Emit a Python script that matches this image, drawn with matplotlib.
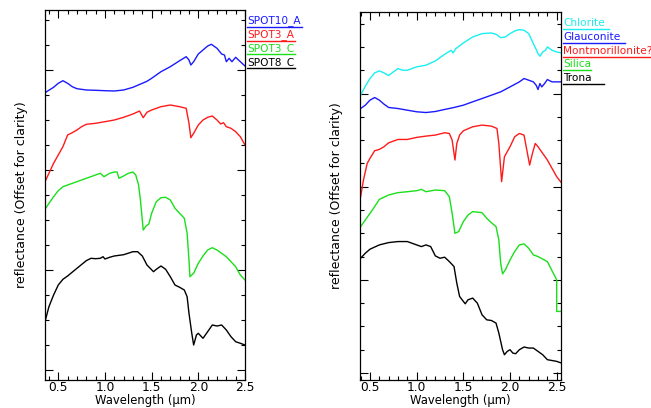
"""Offset reflectance spectra, two panels, IDL-style look."""

import matplotlib
matplotlib.use("Agg")
import matplotlib.pyplot as plt
from matplotlib.ticker import MultipleLocator, NullFormatter
from matplotlib.lines import Line2D

# ── Left panel data ───────────────────────────────────────────────────────────
L_SPOT10_A_X = [0.358, 0.45, 0.5, 0.55, 0.6, 0.65, 0.7, 0.8, 0.9, 1.0, 1.1, 1.2, 1.3, 1.4,
                1.45, 1.5, 1.6, 1.7, 1.8, 1.87, 1.9, 1.92, 1.95, 2.0, 2.05, 2.1, 2.14,
                2.2, 2.25, 2.28, 2.3, 2.33, 2.36, 2.4, 2.45, 2.5]
L_SPOT10_A_Y = [2.773, 2.827, 2.867, 2.893, 2.867, 2.833, 2.813, 2.8, 2.797, 2.793, 2.79,
                2.8, 2.827, 2.867, 2.887, 2.917, 2.983, 3.033, 3.093, 3.133, 3.1, 3.05,
                3.083, 3.16, 3.2, 3.24, 3.257, 3.217, 3.16, 3.15, 3.083, 3.117, 3.083,
                3.127, 3.083, 3.04]

L_SPOT3_A_X = [0.358, 0.4, 0.45, 0.5, 0.55, 0.6, 0.65, 0.7, 0.75, 0.8, 0.9, 1.0, 1.1, 1.2,
               1.3, 1.37, 1.4, 1.41, 1.45, 1.5, 1.6, 1.7, 1.8, 1.87, 1.9, 1.92, 1.95,
               2.0, 2.05, 2.1, 2.15, 2.2, 2.24, 2.27, 2.3, 2.35, 2.4, 2.45, 2.5]
L_SPOT3_A_Y = [1.883, 1.967, 2.067, 2.15, 2.233, 2.35, 2.373, 2.4, 2.433, 2.457, 2.467,
               2.483, 2.5, 2.527, 2.56, 2.59, 2.54, 2.523, 2.577, 2.6, 2.633, 2.65,
               2.633, 2.617, 2.467, 2.323, 2.367, 2.45, 2.5, 2.527, 2.54, 2.5, 2.46,
               2.473, 2.433, 2.417, 2.383, 2.333, 2.25]

L_SPOT3_C_X = [0.358, 0.4, 0.45, 0.5, 0.55, 0.6, 0.7, 0.8, 0.9, 0.95, 0.99, 1.05, 1.1,
               1.13, 1.15, 1.2, 1.25, 1.3, 1.33, 1.36, 1.38, 1.4, 1.41, 1.44, 1.47, 1.5,
               1.55, 1.6, 1.65, 1.7, 1.75, 1.8, 1.85, 1.88, 1.9, 1.91, 1.95, 2.0, 2.05,
               2.1, 2.15, 2.2, 2.3, 2.4, 2.45, 2.5]
L_SPOT3_C_Y = [1.607, 1.667, 1.733, 1.793, 1.833, 1.85, 1.883, 1.917, 1.95, 1.967, 1.933,
               1.967, 1.98, 1.98, 1.917, 1.94, 1.967, 1.98, 1.95, 1.85, 1.7, 1.5, 1.4,
               1.44, 1.46, 1.567, 1.683, 1.723, 1.727, 1.7, 1.617, 1.567, 1.517, 1.367,
               1.1, 0.933, 0.967, 1.067, 1.14, 1.2, 1.223, 1.2, 1.133, 1.033, 0.95, 0.9]

L_SPOT8_C_X = [0.358, 0.4, 0.45, 0.5, 0.55, 0.6, 0.7, 0.8, 0.85, 0.9, 0.95, 0.98, 1.0,
               1.05, 1.1, 1.2, 1.3, 1.35, 1.4, 1.45, 1.52, 1.55, 1.6, 1.65, 1.7, 1.75,
               1.8, 1.85, 1.88, 1.9, 1.93, 1.95, 1.98, 2.0, 2.05, 2.1, 2.15, 2.2, 2.25,
               2.3, 2.35, 2.4, 2.45, 2.5]
L_SPOT8_C_Y = [0.483, 0.633, 0.75, 0.85, 0.907, 0.94, 1.017, 1.093, 1.117, 1.113, 1.117,
               1.133, 1.11, 1.127, 1.14, 1.153, 1.183, 1.183, 1.14, 1.05, 0.983, 1.007,
               1.04, 1.007, 0.933, 0.85, 0.827, 0.8, 0.733, 0.567, 0.367, 0.25, 0.35,
               0.367, 0.317, 0.383, 0.45, 0.44, 0.45, 0.4, 0.333, 0.283, 0.267, 0.25]

# ── Right panel data ──────────────────────────────────────────────────────────
R_CHLORITE_X = [0.4, 0.45, 0.5, 0.55, 0.6, 0.65, 0.7, 0.75, 0.8, 0.85, 0.9, 0.95, 1.0,
                1.1, 1.2, 1.3, 1.37, 1.39, 1.42, 1.5, 1.6, 1.7, 1.8, 1.85, 1.9, 1.95,
                2.0, 2.05, 2.1, 2.15, 2.2, 2.25, 2.3, 2.32, 2.35, 2.38, 2.4, 2.45, 2.5,
                2.55]
R_CHLORITE_Y = [2.982, 3.079, 3.161, 3.221, 3.243, 3.221, 3.193, 3.232, 3.268, 3.25, 3.25,
                3.268, 3.286, 3.304, 3.35, 3.421, 3.464, 3.436, 3.482, 3.543, 3.607,
                3.643, 3.65, 3.636, 3.6, 3.607, 3.643, 3.671, 3.686, 3.679, 3.643,
                3.536, 3.429, 3.4, 3.446, 3.464, 3.5, 3.464, 3.446, 3.436]

R_GLAUCONITE_X = [0.4, 0.45, 0.5, 0.55, 0.6, 0.65, 0.7, 0.8, 0.9, 1.0, 1.1, 1.2, 1.3, 1.4,
                  1.5, 1.6, 1.7, 1.8, 1.9, 2.0, 2.1, 2.15, 2.2, 2.25, 2.28, 2.3, 2.32,
                  2.34, 2.37, 2.4, 2.45, 2.5, 2.55]
R_GLAUCONITE_Y = [2.839, 2.875, 2.929, 2.957, 2.929, 2.886, 2.85, 2.839, 2.821, 2.804,
                  2.796, 2.807, 2.829, 2.85, 2.875, 2.911, 2.946, 2.982, 3.018, 3.071,
                  3.125, 3.161, 3.143, 3.125, 3.089, 3.043, 3.107, 3.071, 3.107, 3.15,
                  3.125, 3.125, 3.125]

R_MONTMOR_X = [0.4, 0.43, 0.47, 0.5, 0.55, 0.6, 0.65, 0.7, 0.8, 0.9, 1.0, 1.1, 1.2, 1.3,
               1.35, 1.38, 1.41, 1.43, 1.46, 1.5, 1.6, 1.7, 1.8, 1.86, 1.88, 1.91, 1.94,
               2.0, 2.05, 2.1, 2.15, 2.18, 2.21, 2.24, 2.27, 2.3, 2.4, 2.5, 2.55]
R_MONTMOR_Y = [1.893, 2.071, 2.25, 2.304, 2.386, 2.4, 2.429, 2.471, 2.507, 2.507, 2.529,
               2.543, 2.554, 2.579, 2.571, 2.5, 2.286, 2.464, 2.554, 2.6, 2.643, 2.661,
               2.65, 2.625, 2.464, 2.054, 2.321, 2.429, 2.536, 2.571, 2.554, 2.393,
               2.232, 2.357, 2.464, 2.429, 2.286, 2.107, 2.043]

R_SILICA_X = [0.4, 0.45, 0.5, 0.55, 0.6, 0.7, 0.8, 0.9, 1.0, 1.05, 1.1, 1.2, 1.3, 1.35,
              1.38, 1.41, 1.45, 1.5, 1.55, 1.6, 1.7, 1.75, 1.8, 1.85, 1.88, 1.9, 1.92,
              1.95, 2.0, 2.05, 2.1, 2.15, 2.2, 2.25, 2.3, 2.4, 2.5, 2.5, 2.55]
R_SILICA_Y = [1.571, 1.643, 1.714, 1.786, 1.864, 1.911, 1.936, 1.946, 1.957, 1.971,
              1.946, 1.964, 1.957, 1.893, 1.714, 1.5, 1.518, 1.625, 1.696, 1.732,
              1.721, 1.661, 1.614, 1.571, 1.429, 1.179, 1.064, 1.107, 1.214, 1.304,
              1.375, 1.386, 1.339, 1.268, 1.25, 1.196, 1.0, 0.661, 0.661]

R_TRONA_X = [0.4, 0.45, 0.5, 0.6, 0.7, 0.8, 0.9, 1.0, 1.05, 1.1, 1.15, 1.2, 1.25, 1.3,
             1.35, 1.4, 1.43, 1.46, 1.52, 1.55, 1.6, 1.65, 1.7, 1.75, 1.8, 1.85, 1.88,
             1.92, 1.94, 1.97, 2.0, 2.03, 2.06, 2.1, 2.15, 2.2, 2.25, 2.3, 2.35, 2.4,
             2.5, 2.55]
R_TRONA_Y = [1.232, 1.286, 1.329, 1.375, 1.4, 1.411, 1.411, 1.375, 1.357, 1.375, 1.357,
             1.257, 1.232, 1.243, 1.196, 1.143, 0.964, 0.821, 0.743, 0.786, 0.804, 0.75,
             0.625, 0.571, 0.564, 0.536, 0.429, 0.25, 0.196, 0.232, 0.25, 0.214, 0.207,
             0.25, 0.279, 0.268, 0.268, 0.232, 0.196, 0.143, 0.125, 0.107]

LEFT_NAMES = ["SPOT10_A", "SPOT3_A", "SPOT3_C", "SPOT8_C"]
RIGHT_NAMES = ["Chlorite", "Glauconite", "Montmorillonite?", "Silica", "Trona"]

# ── Style ─────────────────────────────────────────────────────────────────────
_BLUE = "#1a1aff"
_RED = "#ff1a1a"
_GREEN = "#1adf1a"
_CYAN = "#1aefef"
_BLACK = "#000000"

W, H = 651, 408
fig = plt.figure(figsize=(W / 100, H / 100), dpi=100, facecolor="white")


def _axes(left, right, top, bottom):
    return fig.add_axes([left / W, 1 - bottom / H, (right - left) / W, (bottom - top) / H])


def _style(ax, xlim, ylim):
    ax.set_xlim(*xlim)
    ax.set_ylim(*ylim)
    ax.xaxis.set_major_locator(MultipleLocator(0.5))
    ax.xaxis.set_minor_locator(MultipleLocator(0.1))
    ax.yaxis.set_major_locator(MultipleLocator(1.0))
    ax.yaxis.set_minor_locator(MultipleLocator(0.25))
    ax.yaxis.set_major_formatter(NullFormatter())
    ax.tick_params(which="both", direction="in", top=True, right=True,
                   width=0.8, labelsize=8.8, pad=0.5)
    ax.tick_params(which="major", length=6)
    ax.tick_params(which="minor", length=3)
    for sp in ax.spines.values():
        sp.set_linewidth(0.9)
    ax.set_ylabel("reflectance (Offset for clarity)", fontsize=9, labelpad=12)
    # x label sits tight under the tick labels, as in the IDL original
    pos = ax.get_position()
    fig.text(pos.x0 + pos.width / 2, 1 - 400.5 / H, "Wavelength (\u03bcm)",
             fontsize=8.4, ha="center", va="center")


def _legend(x0, y0, dy, items):
    # IDL-like legend: coloured text with an underline of given pixel length
    for i, (name, color, ulen) in enumerate(items):
        y = y0 + i * dy
        fig.text(x0 / W, 1 - y / H, name, color=color, fontsize=7.6,
                 ha="left", va="center")
        fig.add_artist(Line2D([x0 / W, (x0 + ulen) / W],
                              [1 - (y + 6) / H, 1 - (y + 6) / H],
                              color=color, linewidth=1.0))


# Left panel
axl = _axes(45, 245, 10, 380)
for xs, ys, c in [(L_SPOT10_A_X, L_SPOT10_A_Y, _BLUE), (L_SPOT3_A_X, L_SPOT3_A_Y, _RED),
                  (L_SPOT3_C_X, L_SPOT3_C_Y, _GREEN), (L_SPOT8_C_X, L_SPOT8_C_Y, _BLACK)]:
    axl.plot(xs, ys, color=c, linewidth=1.0)
_style(axl, (0.358, 2.5), (-0.1, 3.6))
_legend(247, 21, 13.7, list(zip(LEFT_NAMES, [_BLUE, _RED, _GREEN, _BLACK], [55, 48, 48, 48])))

# Right panel
axr = _axes(360, 561, 12, 380)
for xs, ys, c in [(R_CHLORITE_X, R_CHLORITE_Y, _CYAN), (R_GLAUCONITE_X, R_GLAUCONITE_Y, _BLUE),
                  (R_MONTMOR_X, R_MONTMOR_Y, _RED), (R_SILICA_X, R_SILICA_Y, _GREEN),
                  (R_TRONA_X, R_TRONA_Y, _BLACK)]:
    axr.plot(xs, ys, color=c, linewidth=1.0)
_style(axr, (0.393, 2.546), (-0.075, 3.875))
_legend(563, 23, 13.75, list(zip(RIGHT_NAMES, [_CYAN, _BLUE, _RED, _GREEN, _BLACK],
                                  [46, 62, 88, 28, 41])))

fig.savefig("out.png", dpi=100, facecolor="white")
